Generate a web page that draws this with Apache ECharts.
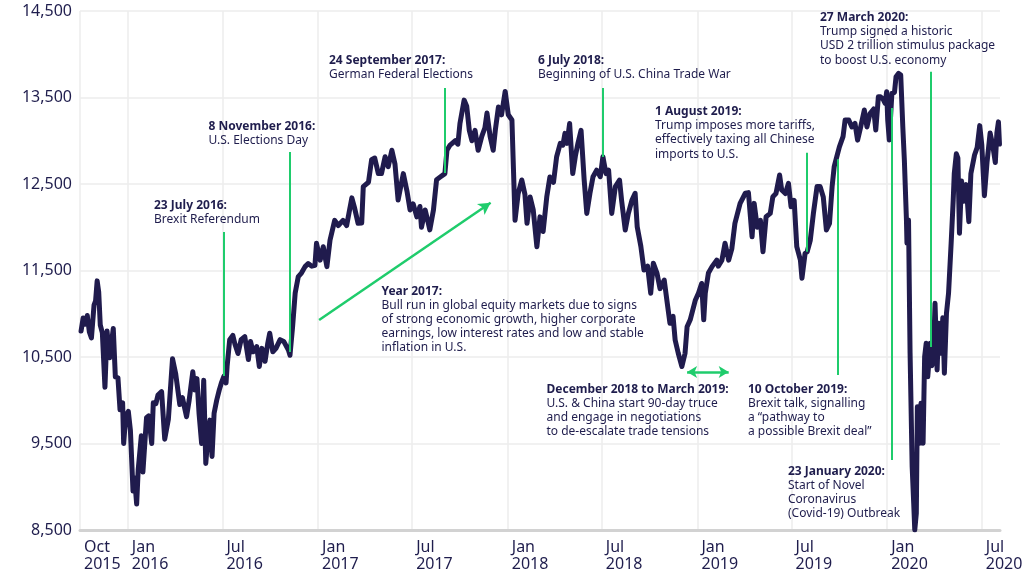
<!DOCTYPE html>
<html><head><meta charset="utf-8">
<script src="https://cdn.jsdelivr.net/npm/echarts@6/dist/echarts.min.js"></script>
<style>html,body{margin:0;padding:0;background:#fff}#c{width:1024px;height:580px}</style>
</head><body><div id="c"></div>
<script>
const dates = [
'2015-10-03','2015-10-07','2015-10-11','2015-10-15','2015-10-19','2015-10-23','2015-10-28','2015-10-31','2015-11-03','2015-11-06',
'2015-11-09','2015-11-13','2015-11-18','2015-11-22','2015-11-27','2015-12-04','2015-12-08','2015-12-13','2015-12-17','2015-12-22',
'2015-12-24','2015-12-28','2016-01-02','2016-01-06','2016-01-11','2016-01-14','2016-01-18','2016-01-21','2016-01-27','2016-01-30',
'2016-02-06','2016-02-10','2016-02-16','2016-02-19','2016-02-24','2016-02-28','2016-03-06','2016-03-12','2016-03-19','2016-03-27',
'2016-04-02','2016-04-10','2016-04-15','2016-04-18','2016-04-23','2016-04-28','2016-05-05','2016-05-09','2016-05-13','2016-05-17',
'2016-05-22','2016-05-26','2016-05-30','2016-06-04','2016-06-07','2016-06-11','2016-06-15','2016-06-20','2016-06-25','2016-06-29',
'2016-07-04','2016-07-08','2016-07-10','2016-07-15','2016-07-21','2016-07-25','2016-07-31','2016-08-06','2016-08-13','2016-08-20',
'2016-08-24','2016-08-29','2016-09-05','2016-09-10','2016-09-15','2016-09-21','2016-09-26','2016-09-30','2016-10-06','2016-10-12',
'2016-10-20','2016-10-27','2016-11-05','2016-11-08','2016-11-13','2016-11-18','2016-11-24','2016-11-30','2016-12-07','2016-12-13',
'2016-12-20','2016-12-26','2016-12-29','2017-01-05','2017-01-11','2017-01-18','2017-01-24','2017-02-02','2017-02-09','2017-02-18',
'2017-02-25','2017-03-07','2017-03-12','2017-03-19','2017-03-26','2017-03-29','2017-04-08','2017-04-14','2017-04-20','2017-04-27',
'2017-05-03','2017-05-10','2017-05-16','2017-05-23','2017-05-29','2017-06-04','2017-06-14','2017-06-21','2017-06-27','2017-07-03',
'2017-07-10','2017-07-16','2017-07-19','2017-07-26','2017-08-01','2017-08-04','2017-08-11','2017-08-17','2017-08-24','2017-09-02',
'2017-09-06','2017-09-12','2017-09-22','2017-09-27','2017-10-01','2017-10-09','2017-10-14','2017-10-19','2017-10-24','2017-10-30',
'2017-11-05','2017-11-12','2017-11-18','2017-11-22','2017-11-28','2017-12-04','2017-12-08','2017-12-14','2017-12-20','2017-12-27',
'2018-01-02','2018-01-09','2018-01-12','2018-01-15','2018-01-21','2018-01-28','2018-02-03','2018-02-07','2018-02-13','2018-02-19',
'2018-02-26','2018-03-04','2018-03-10','2018-03-17','2018-03-23','2018-03-30','2018-04-05','2018-04-12','2018-04-17','2018-04-21',
'2018-04-25','2018-04-30','2018-05-06','2018-05-11','2018-05-16','2018-05-22','2018-05-28','2018-06-02','2018-06-08','2018-06-14',
'2018-06-21','2018-06-28','2018-07-03','2018-07-09','2018-07-14','2018-07-20','2018-07-27','2018-08-04','2018-08-08','2018-08-15',
'2018-08-21','2018-08-28','2018-09-03','2018-09-07','2018-09-14','2018-09-20','2018-09-27','2018-10-03','2018-10-08','2018-10-15',
'2018-10-21','2018-10-29','2018-11-03','2018-11-09','2018-11-15','2018-11-19','2018-11-25','2018-12-02','2018-12-08','2018-12-12',
'2018-12-18','2018-12-28','2019-01-03','2019-01-09','2019-01-13','2019-01-16','2019-01-22','2019-01-29','2019-02-07','2019-02-10',
'2019-02-17','2019-02-23','2019-03-02','2019-03-08','2019-03-14','2019-03-24','2019-04-03','2019-04-09','2019-04-16','2019-04-20',
'2019-04-26','2019-05-02','2019-05-07','2019-05-13','2019-05-21','2019-05-26','2019-06-01','2019-06-08','2019-06-12','2019-06-19',
'2019-06-25','2019-06-30','2019-07-06','2019-07-11','2019-07-18','2019-07-21','2019-07-27','2019-07-31','2019-08-06','2019-08-12',
'2019-08-19','2019-08-25','2019-08-31','2019-09-06','2019-09-12','2019-09-17','2019-09-21','2019-09-26','2019-10-01','2019-10-08',
'2019-10-12','2019-10-19','2019-10-25','2019-10-31','2019-11-05','2019-11-11','2019-11-18','2019-11-23','2019-11-29','2019-12-06',
'2019-12-10','2019-12-15','2019-12-19','2019-12-24','2019-12-28','2019-12-31','2020-01-02','2020-01-05','2020-01-10','2020-01-15',
'2020-01-18','2020-01-23','2020-01-27','2020-01-31','2020-02-03','2020-02-07','2020-02-08','2020-02-11','2020-02-14','2020-02-18',
'2020-02-21','2020-02-23','2020-02-26','2020-02-28','2020-03-03','2020-03-06','2020-03-10','2020-03-13','2020-03-16','2020-03-19',
'2020-03-24','2020-03-27','2020-03-30','2020-04-02','2020-04-06','2020-04-09','2020-04-13','2020-04-17','2020-04-20','2020-04-24',
'2020-04-28','2020-05-03','2020-05-07','2020-05-09','2020-05-13','2020-05-16','2020-05-19','2020-05-23','2020-05-27','2020-06-01',
'2020-06-06','2020-06-10','2020-06-17','2020-06-22','2020-06-27','2020-07-01','2020-07-06','2020-07-11','2020-07-17','2020-07-22',
'2020-07-27','2020-07-30','2020-08-02','2020-08-04'
];
const values = [
10800,10950,10880,10980,10790,10720,11100,11150,11380,11250,
10870,10780,10150,10800,10490,10830,10270,10260,9890,9970,
9500,9820,9870,9650,8950,9100,8800,9200,9590,9170,
9800,9820,9500,9970,9960,10060,10100,9550,9780,10480,
10310,9950,10030,10040,9810,10000,10330,10120,10250,9850,
9500,10230,9270,9650,9770,9350,9850,10000,10120,10200,
10280,10200,10390,10700,10750,10650,10540,10700,10735,10470,
10680,10560,10620,10390,10600,10450,10650,10775,10560,10600,
10700,10680,10580,10520,10850,11240,11430,11470,11545,11580,
11550,11560,11815,11620,11775,11545,11850,12080,12020,12080,
12020,12340,12230,12045,12050,12470,12520,12780,12800,12620,
12620,12815,12700,12890,12730,12315,12620,12420,12200,12270,
12120,12240,12000,12200,12050,11970,12200,12550,12580,12620,
12890,12950,13000,12960,13200,13470,13400,13120,13000,13120,
12890,13050,13150,13320,13050,12890,13120,13390,13300,13570,
13300,13240,12660,12080,12390,12546,12380,12045,12350,12200,
11775,12120,11950,12350,12580,12520,12815,12970,12950,13085,
12970,13200,12620,12820,12970,13120,12546,12160,12390,12584,
12660,12584,12815,12620,12660,12160,12470,12546,12310,11968,
12160,12315,12393,12006,11780,11506,11550,11236,11584,11470,
11290,11390,11160,10890,10970,10697,10543,10390,10540,10850,
10930,11160,11240,11350,10930,11240,11470,11545,11620,11550,
11620,11815,11620,11750,12045,12276,12393,12400,11890,12276,
12000,12080,11717,12122,12160,12353,12390,12604,12430,12390,
12507,12238,12310,11775,11620,11410,11698,11717,11850,12160,
12470,12470,12350,11968,12045,12470,12700,12815,12930,13047,
13240,13240,13160,13200,13007,13160,13355,13160,13315,13367,
13124,13509,13509,13480,13433,13567,13240,13009,13548,13560,
13740,13779,13760,13162,12777,12084,11815,12084,10543,9232,
8809,8500,8693,9925,9502,9965,9502,10503,10658,10272,
10658,10400,10500,11121,10350,10890,10543,10955,10312,11005,
11236,11815,12315,12620,12850,12800,11930,12535,12300,12493,
12065,12620,12835,12920,13175,12950,12365,12748,13090,12950,
12748,13090,13218,12962
];
const xLabelDates = ['2015-10-01','2016-01-01','2016-07-01','2017-01-01','2017-07-01','2018-01-01','2018-07-01','2019-01-01','2019-07-01','2020-01-01','2020-07-01'];
const xRange = ['2015-10-01','2020-08-05'];
const yRange = [8500, 14500];
const yStep = 1000;
const monthNames = ['Jan','Feb','Mar','Apr','May','Jun','Jul','Aug','Sep','Oct','Nov','Dec'];

// annotation guide lines (date, low value, high value)
const eventDates = ['2016-07-04','2016-11-08','2017-09-02','2018-07-03','2019-07-31','2019-09-28','2020-01-10','2020-03-24'];
const eventLow  = [10280, 10558, 12627, 12812, 11717, 10292, 9309, 10616];
const eventHigh = [11945, 12870, 13610, 13610, 12862, 12785, 13379, 13798];
const trendArrow = [['2017-01-03', 10928], ['2017-11-29', 12284]];
const truceArrow = [['2018-12-12', 10327], ['2019-03-02', 10327]];

const noteHeads = ['23 July 2016:','8 November 2016:','24 September 2017:','6 July 2018:','1 August 2019:','27 March 2020:','Year 2017:','December 2018 to March 2019:','10 October 2019:','23 January 2020:'];
const noteBodies = [
 'Brexit Referendum',
 'U.S. Elections Day',
 'German Federal Elections',
 'Beginning of U.S. China Trade War',
 'Trump imposes more tariffs,\neffectively taxing all Chinese\nimports to U.S.',
 'Trump signed a historic\nUSD 2 trillion stimulus package\nto boost U.S. economy',
 'Bull run in global equity markets due to signs\nof strong economic growth, higher corporate\nearnings, low interest rates and low and stable\ninflation in U.S.',
 'U.S. & China start 90-day truce\nand engage in negotiations\nto de-escalate trade tensions',
 'Brexit talk, signalling\na \u201cpathway to\na possible Brexit deal\u201d',
 'Start of Novel\nCoronavirus\n(Covid-19) Outbreak'
];
const notePos = [[154,198],[208.5,119],[329,53.5],[538,53.5],[655,104.5],[820,10.5],[381.5,284],[546.5,382],[748,382],[788,464]];

const NAVY = '#201b4d';
const TEXT = '#1f1d4d';
const GREEN = '#1fcc6c';
const FONT = '"Noto Sans", "Open Sans", sans-serif';
const LH = 14.2;

function ts(s){ const p = s.split('-').map(Number); return new Date(p[0], p[1]-1, p[2]).getTime(); }

const xTicks = xLabelDates.map(ts);
const lineData = dates.map((d,i)=>[ts(d), values[i]]);

const markData = eventDates.map((d,i)=>[
  {coord:[ts(d), eventLow[i]], symbol:'none'},
  {coord:[ts(d), eventHigh[i]], symbol:'none'}
]);
markData.push([
  {coord:[ts(trendArrow[0][0]), trendArrow[0][1]], symbol:'none', lineStyle:{width:2.5}},
  {coord:[ts(trendArrow[1][0]), trendArrow[1][1]], symbol:'arrow', symbolSize:[10,12]}
]);
markData.push([
  {coord:[ts(truceArrow[0][0]), truceArrow[0][1]], symbol:'arrow', symbolSize:[9,10], lineStyle:{width:2.5}},
  {coord:[ts(truceArrow[1][0]), truceArrow[1][1]], symbol:'arrow', symbolSize:[9,10]}
]);

const graphics = [];
noteHeads.forEach((h,i)=>{
  const [x,y] = notePos[i];
  graphics.push({type:'text', x:x, y:y, silent:true, z:10, style:{text:h, fill:TEXT, fontFamily:FONT, fontSize:12, fontWeight:'bold', lineHeight:LH, align:'left', verticalAlign:'top'}});
  graphics.push({type:'text', x:x, y:y+LH, silent:true, z:10, style:{text:noteBodies[i], fill:TEXT, fontFamily:FONT, fontSize:12, fontWeight:'normal', lineHeight:LH, align:'left', verticalAlign:'top'}});
});

const chart = echarts.init(document.getElementById('c'), null, {renderer:'canvas'});
chart.setOption({
  animation:false,
  backgroundColor:'#ffffff',
  textStyle:{fontFamily:FONT},
  grid:{left:80, right:24, top:11, bottom:50, containLabel:false, outerBoundsMode:'none'},
  xAxis:{
    type:'value', min:ts(xRange[0]), max:ts(xRange[1]), scale:true,
    axisLine:{show:true, onZero:false, lineStyle:{color:'#d2d2d2', width:3}},
    axisTick:{show:false, customValues:xTicks},
    axisLabel:{customValues:xTicks, hideOverlap:false, showMinLabel:true, showMaxLabel:true,
      color:TEXT, fontSize:16, fontFamily:FONT, lineHeight:17, align:'left', margin:9, padding:[0,0,0,4],
      formatter:function(v){ const d = new Date(v); return monthNames[d.getMonth()] + '\n' + d.getFullYear(); }},
    splitLine:{show:true, lineStyle:{color:'#ededed', width:1.5}}
  },
  yAxis:{
    type:'value', min:yRange[0], max:yRange[1], interval:yStep,
    axisLine:{show:false}, axisTick:{show:false},
    axisLabel:{color:TEXT, fontSize:16, fontFamily:FONT, margin:8,
      formatter:function(v){ return String(v).replace(/\B(?=(\d{3})+(?!\d))/g, ','); }},
    splitLine:{show:true, lineStyle:{color:'#ededed', width:1.5}}
  },
  series:[
    {type:'line', data:[], z:2, silent:true,
     markLine:{silent:true, animation:false, symbol:['none','none'], label:{show:false}, emphasis:{disabled:true},
       lineStyle:{color:GREEN, width:2, type:'solid'}, data:markData}},
    {type:'line', data:lineData, z:3, showSymbol:false, silent:true, clip:true,
     lineStyle:{color:NAVY, width:5, join:'round', cap:'round'}}
  ],
  graphic:graphics
});
</script>
</body></html>
